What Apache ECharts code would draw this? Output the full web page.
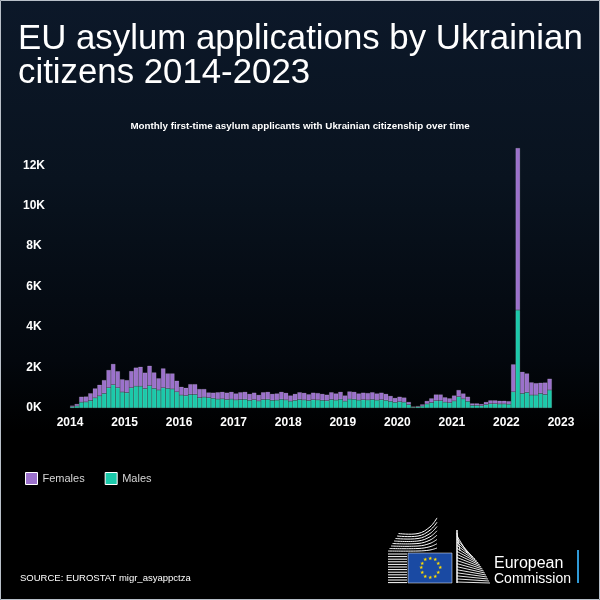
<!DOCTYPE html>
<html><head><meta charset="utf-8">
<script src="https://cdn.jsdelivr.net/npm/echarts@6/dist/echarts.min.js"></script>
<style>html,body{margin:0;padding:0;background:#000}
#c{width:600px;height:600px;background:linear-gradient(180deg,#0c1829 0%,#09131f 30%,#03070d 60%,#000 72%,#000 100%)}</style>
</head><body><div id="c"></div>
<script>
// Year tick labels (boundaries)
const yearLabels = ['2014','2015','2016','2017','2018','2019','2020','2021','2022','2023'];
// Monthly categories Jan 2014 .. Dec 2022 (data ends Oct 2022)
const months = [];
for (let y = 2014; y <= 2022; y++) for (let m = 1; m <= 12; m++) months.push(y + '-' + String(m).padStart(2,'0'));

const males = [
  60,100,290,300,370,500,600,720,1000,1150,1000,790,
  760,1000,1080,1080,960,1100,970,890,1000,970,940,800,
  640,610,670,670,510,540,510,480,440,450,420,440,
  400,420,430,380,410,350,420,430,380,390,430,400,
  340,380,420,400,370,410,400,380,360,420,390,430,
  340,440,430,390,410,400,420,390,410,380,330,280,
  310,290,170,40,60,100,200,270,360,360,290,260,
  350,560,450,330,130,130,110,170,210,210,200,200,
  190,800,4840,720,770,640,640,720,670,890
];
const females = [
  60,100,270,270,360,470,550,660,880,1030,820,630,
  620,830,920,960,790,990,790,580,960,740,770,550,
  410,390,510,510,430,400,260,280,340,350,340,360,
  320,360,370,320,350,300,360,370,320,330,370,350,
  280,320,360,350,310,350,340,320,300,360,330,370,
  280,380,370,330,350,340,360,330,350,320,270,220,
  250,230,130,30,40,80,150,210,310,310,240,220,
  270,330,270,230,100,100,90,130,170,170,160,160,
  150,1360,8010,1070,940,630,590,530,590,560
];

const FF = '"Liberation Sans", Arial, sans-serif';
const chart = echarts.init(document.getElementById('c'), null, {renderer:'canvas'});

// logo decoration
const logo = [];
for (let k = 0; k < 12; k++) {
  const y = 554 + k * 2.6;
  logo.push({type:'line', shape:{x1:388, y1:y, x2:407, y2:y}, style:{stroke:'#fff', lineWidth:1}});
}
for (let k = 0; k < 8; k++) {
  const y = 551 - k * 2.5;
  logo.push({type:'polyline', shape:{points:[[388 + k*1.5, y],[418, y],[430, y - k*0.8 - 1],[437, y - k*1.8 - 3]], smooth:0.4}, style:{stroke:'#fff', lineWidth:1, fill:null}});
}
logo.push({type:'line', shape:{x1:457, y1:530, x2:457, y2:583}, style:{stroke:'#fff', lineWidth:1.5}});
for (let k = 0; k <= 16; k++) {
  const t = k / 16;
  logo.push({type:'line', shape:{x1:457, y1:533 + 49*t, x2:460 + 30*Math.sqrt(t), y2:551 + 32*t}, style:{stroke:'#fff', lineWidth:0.9}});
}
logo.push({type:'rect', shape:{x:408, y:553, width:44, height:30}, style:{fill:'#1a4aa3', stroke:'#fff', lineWidth:0.5}});
for (let s = 0; s < 12; s++) {
  const a = s / 12 * Math.PI * 2;
  logo.push({type:'text', style:{text:'★', x:430 + 9.5*Math.cos(a), y:568 + 9.5*Math.sin(a), fill:'#ffdd00', fontSize:5, align:'center', verticalAlign:'middle'}});
}
logo.push({type:'text', style:{text:'European', x:494, y:556, fill:'#fff', fontSize:16, fontFamily:FF, verticalAlign:'top'}});
logo.push({type:'text', style:{text:'Commission', x:494, y:572, fill:'#fff', fontSize:14, fontFamily:FF, verticalAlign:'top'}});
logo.push({type:'rect', shape:{x:577, y:550, width:2, height:33}, style:{fill:'#2f9ad8'}});

const option = {
  animation: false,
  backgroundColor: 'transparent',
  textStyle: {fontFamily: FF},
  graphic: [
    {type:'rect', shape:{x:0.5, y:0.5, width:599, height:599}, style:{fill:null, stroke:'#b9c0c9', lineWidth:1}},
    {type:'text', style:{text:'EU asylum applications by Ukrainian', x:18, y:22, fill:'#fff', fontSize:34.8, fontFamily:FF, verticalAlign:'top'}},
    {type:'text', style:{text:'citizens 2014-2023', x:18, y:56, fill:'#fff', fontSize:34.8, fontFamily:FF, verticalAlign:'top'}},
    {type:'text', style:{text:'Monthly first-time asylum applicants with Ukrainian citizenship over time', x:300, y:126, fill:'#fff', fontSize:9.8, fontWeight:'bold', fontFamily:FF, align:'center', verticalAlign:'middle'}},
    {type:'text', style:{text:'SOURCE: EUROSTAT migr_asyappctza', x:20, y:578, fill:'#fff', fontSize:9.5, fontFamily:FF, verticalAlign:'middle'}},
    ...logo
  ],
  legend: {
    data: ['Females','Males'], left: 20, top: 467, icon: 'rect', itemWidth: 12, itemHeight: 12, itemGap: 20,
    itemStyle: {borderColor:'#fff', borderWidth:1},
    textStyle: {color:'#d6d6d6', fontSize:11, fontFamily:FF}
  },
  grid: {left:70, right:39, top:145, bottom:192},
  xAxis: [
    {type:'category', data: months, boundaryGap:true,
     axisLabel:{show:false}, axisLine:{show:false}, axisTick:{show:false}, splitLine:{show:false}},
    {type:'value', min:0, max:108, interval:12, position:'bottom',
     axisLabel: {formatter: v => yearLabels[Math.round(v/12)], color:'#fff', fontWeight:'bold', fontSize:12, margin:9, fontFamily:FF},
     axisLine:{show:false}, axisTick:{show:false}, splitLine:{show:false}}
  ],
  yAxis: {
    type:'value', min:0, max:13000, interval:2000,
    axisLabel: {formatter: v => (v % 2000 === 0 ? (v/1000) + 'K' : ''), color:'#fff', fontWeight:'bold', fontSize:12, align:'center', margin:36, fontFamily:FF},
    axisLine:{show:false}, axisTick:{show:false}, splitLine:{show:false}
  },
  series: [
    {name:'Males', type:'bar', stack:'total', xAxisIndex:0, barWidth:'100%', data: males,
     itemStyle:{color:'#1bc9aa', borderColor:'rgba(255,255,255,0.28)', borderWidth:0.5}},
    {name:'Females', type:'bar', stack:'total', xAxisIndex:0, barWidth:'100%', data: females,
     itemStyle:{color:'#9b71cb', borderColor:'rgba(255,255,255,0.28)', borderWidth:0.5}}
  ]
};
chart.setOption(option);
</script></body></html>
